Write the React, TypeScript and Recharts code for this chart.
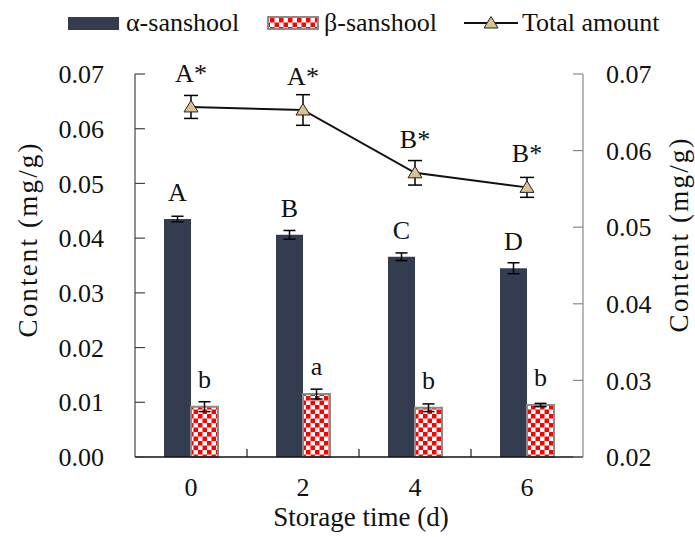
import { Bar, ComposedChart, ErrorBar, Label, LabelList, Legend, Line, XAxis, YAxis } from "recharts";

const days = ["0", "2", "4", "6"];
const alpha = [0.0435, 0.0406, 0.0366, 0.0345];
const alphaErr = [0.0005, 0.0008, 0.0007, 0.001];
const alphaLetters = ["A", "B", "C", "D"];
const beta = [0.0092, 0.0115, 0.009, 0.0095];
const betaErr = [0.0009, 0.0009, 0.0007, 0.0003];
const betaLetters = ["b", "a", "b", "b"];
const total = [0.0657, 0.0653, 0.0571, 0.0552];
const totalErr = [0.0015, 0.002, 0.0016, 0.0013];
const totalLetters = ["A*", "A*", "B*", "B*"];
const leftTicks = [0, 0.01, 0.02, 0.03, 0.04, 0.05, 0.06, 0.07];
const rightTicks = [0.02, 0.03, 0.04, 0.05, 0.06, 0.07];

const data = days.map((day, i) => ({
  day,
  alpha: alpha[i],
  alphaErr: alphaErr[i],
  alphaLetter: alphaLetters[i],
  beta: beta[i],
  betaErr: betaErr[i],
  betaLetter: betaLetters[i],
  total: total[i],
  totalErr: totalErr[i],
  totalLetter: totalLetters[i],
}));

const W = 695;
const H = 537;
const font = "Liberation Serif";
const ink = "#111";
const navy = "#343d4f";
const tan = "#d9c290";
const checkerEdge = "#8a8a8a";
const fs = 26;
const xTickMargin = 21;
const textStyle = { fontFamily: font, fontSize: fs, fill: ink };
const titleStyle = { fontFamily: font, fontSize: 27, fill: ink };

const fmt = (v: number) => v.toFixed(2);

function Triangle({ cx, cy }: any) {
  if (cx == null || cy == null) return null;
  return <path d={`M${cx},${cy - 6.5} L${cx + 7},${cy + 5} L${cx - 7},${cy + 5} Z`} fill={tan} stroke="#222" strokeWidth={1} />;
}

function DayTick({ x, y, payload, index }: any) {
  const half = payload?.offset ?? 56;
  const axisY = y - xTickMargin;
  return (
    <g>
      <text x={x} y={y} dy="0.71em" textAnchor="middle" style={textStyle}>
        {payload.value}
      </text>
      {index < days.length - 1 && <line x1={x + half} x2={x + half} y1={axisY} y2={axisY - 8} stroke="#222" strokeWidth={1.2} />}
    </g>
  );
}

function ValueTick({ x, y, payload, textAnchor }: any) {
  return (
    <text x={x} y={y} dy="0.35em" textAnchor={textAnchor} style={textStyle}>
      {fmt(payload.value)}
    </text>
  );
}

const yTitle = (cx: number, shift: number) => (props: any) => {
  const vb = props.viewBox || {};
  const cy = vb.height ? vb.y + vb.height / 2 - shift : 240;
  return (
    <text
      x={cx}
      y={cy}
      dy="0.35em"
      transform={`rotate(-90 ${cx} ${cy})`}
      textAnchor="middle"
      textLength={194}
      lengthAdjust="spacing"
      style={titleStyle}
    >
      Content (mg/g)
    </text>
  );
};

const xTitle = (props: any) => {
  const vb = props.viewBox || {};
  const cx = vb.width ? vb.x + vb.width / 2 : 359;
  const by = vb.height ? vb.y + vb.height - 11 : 526;
  return (
    <text x={cx + 2} y={by} textAnchor="middle" style={{ ...textStyle, fontSize: 27 }}>
      Storage time (d)
    </text>
  );
};

function LegendBox() {
  return (
    <svg width={W} height={44}>
      <defs>
        <pattern id="checkerLegend" width={9} height={9} patternUnits="userSpaceOnUse">
          <rect width={9} height={9} fill="#fff" />
          <rect width={4.5} height={4.5} fill="#ff0000" />
          <rect x={4.5} y={4.5} width={4.5} height={4.5} fill="#ff0000" />
        </pattern>
      </defs>
      <rect x={68} y={17} width={51} height={13} fill={navy} />
      <text x={126} y={31} style={textStyle}>α-sanshool</text>
      <rect x={268} y={17} width={50} height={12} fill="url(#checkerLegend)" stroke={checkerEdge} strokeWidth={2} />
      <text x={324} y={31} style={textStyle}>β-sanshool</text>
      <line x1={464} x2={518} y1={23} y2={23} stroke="#111" strokeWidth={2} />
      <Triangle cx={491} cy={23} />
      <text x={522} y={31} style={textStyle}>Total amount</text>
    </svg>
  );
}

export default function App() {
  return (
    <div style={{ position: "absolute", left: 0, top: 0, width: W, height: H, background: "#fff", fontFamily: font }}>
      <ComposedChart width={W} height={H} data={data} margin={{ top: 74, right: 0, bottom: 0, left: 0 }} barGap={0} barSize={27} style={{ fontFamily: font }}>
        <defs>
          <pattern id="checker" width={9} height={9} patternUnits="userSpaceOnUse">
            <rect width={9} height={9} fill="#fff" />
            <rect width={4.5} height={4.5} fill="#ff0000" />
            <rect x={4.5} y={4.5} width={4.5} height={4.5} fill="#ff0000" />
          </pattern>
        </defs>
        <Legend layout="horizontal" verticalAlign="middle" align="center" wrapperStyle={{ top: 0, left: 0, width: W }} content={() => <LegendBox />} />
        <XAxis dataKey="day" height={80} tickLine={false} tickSize={0} tickMargin={xTickMargin} tick={<DayTick />} axisLine={{ stroke: "#111", strokeWidth: 1.5 }} interval={0}>
          <Label content={xTitle} />
        </XAxis>
        <YAxis
          yAxisId="left"
          orientation="left"
          width={135}
          domain={[0, 0.07]}
          ticks={leftTicks}
          interval={0}
          tickSize={-10}
          tickMargin={41}
          tick={<ValueTick />}
          axisLine={{ stroke: "#444", strokeWidth: 1.2 }}
          tickLine={{ stroke: "#444", strokeWidth: 1.2 }}
        >
          <Label content={yTitle(28, 25)} />
        </YAxis>
        <YAxis
          yAxisId="right"
          orientation="right"
          width={112}
          domain={[0.02, 0.07]}
          ticks={rightTicks}
          interval={0}
          tickSize={-10}
          tickMargin={33}
          tick={<ValueTick />}
          axisLine={{ stroke: "#888", strokeWidth: 1.2 }}
          tickLine={{ stroke: "#888", strokeWidth: 1.2 }}
        >
          <Label content={yTitle(679, 30)} />
        </YAxis>
        <Bar yAxisId="left" dataKey="alpha" name="α-sanshool" fill={navy} isAnimationActive={false}>
          <ErrorBar dataKey="alphaErr" width={6} stroke="#000" strokeWidth={1.5} direction="y" />
          <LabelList dataKey="alphaLetter" position="top" offset={18} style={textStyle} />
        </Bar>
        <Bar yAxisId="left" dataKey="beta" name="β-sanshool" fill="url(#checker)" stroke={checkerEdge} strokeWidth={2} isAnimationActive={false}>
          <ErrorBar dataKey="betaErr" width={6} stroke="#000" strokeWidth={1.5} direction="y" />
          <LabelList dataKey="betaLetter" position="top" offset={19} style={textStyle} />
        </Bar>
        <Line
          yAxisId="right"
          dataKey="total"
          name="Total amount"
          stroke="#111"
          strokeWidth={2}
          dot={<Triangle />}
          activeDot={false}
          isAnimationActive={false}
        >
          <ErrorBar dataKey="totalErr" width={7} stroke="#000" strokeWidth={1.5} direction="y" />
          <LabelList dataKey="totalLetter" position="top" offset={25} style={textStyle} />
        </Line>
      </ComposedChart>
    </div>
  );
}
